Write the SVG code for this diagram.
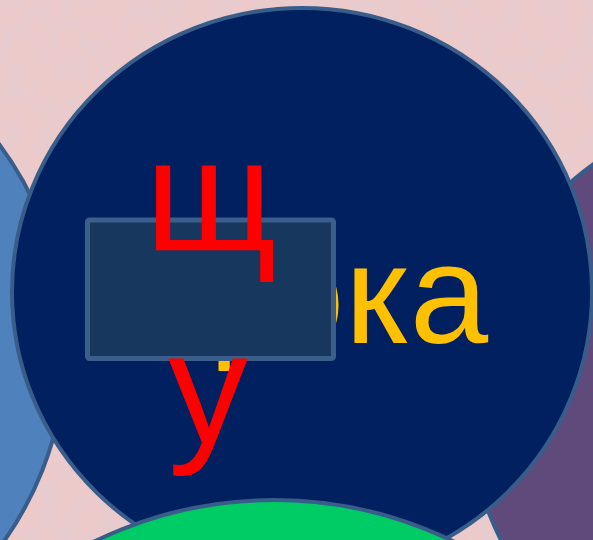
<svg xmlns="http://www.w3.org/2000/svg" width="593" height="540" viewBox="0 0 593 540">
  <defs>
    <filter id="tex" x="0" y="0" width="593" height="540" filterUnits="userSpaceOnUse">
      <feTurbulence type="fractalNoise" baseFrequency="0.05" numOctaves="4" seed="7"/>
      <feColorMatrix type="matrix" values="0 0 0 0 0.8  0 0 0 0 0.6  0 0 0 0 0.62  4 0 0 0 -1.75"/>
    </filter>
    <style>
      .shape { stroke: #385D8A; stroke-width: 4; }
      .letter { font-family: "Liberation Sans", Arial, sans-serif; }
      .red { fill: #FF0000; }
      .yellow { fill: #FFC000; }
    </style>
  </defs>

  <g id="background">
    <rect x="0" y="0" width="593" height="540" fill="#EDCACA"/>
    <rect x="0" y="0" width="593" height="540" fill="#EDCACA" filter="url(#tex)"/>
  </g>

  <g id="node-left">
    <circle class="shape" cx="-272" cy="346" r="338" fill="#4F81BD"/>
  </g>
  <g id="node-right">
    <circle class="shape" cx="766" cy="406" r="297" fill="#604A7B"/>
  </g>

  <g id="node-center">
    <ellipse class="shape" cx="302" cy="292" rx="290" ry="284" fill="#002060"/>
    <text class="letter yellow" x="117 266 345" y="343" font-size="141">щока</text>
    <rect x="87.5" y="220" width="246" height="138.5" rx="2" fill="#17375E" stroke="#3A5F8B" stroke-width="5"/>
    <text class="letter red" x="145" y="250" font-size="160">щ</text>
    <text class="letter red" x="168" y="443" font-size="160">у</text>
  </g>

  <g id="node-bottom">
    <circle class="shape" cx="274" cy="910" r="410" fill="#00CC66"/>
  </g>

  <g id="connectors"/>
</svg>
